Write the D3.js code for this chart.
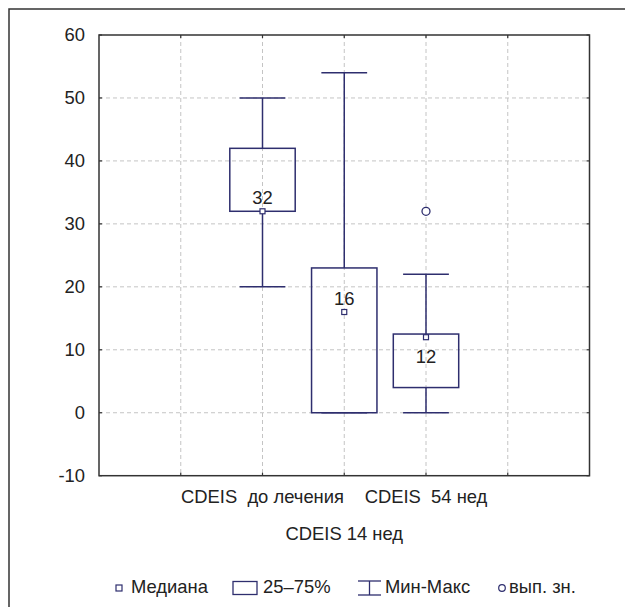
<!DOCTYPE html>
<html><head><meta charset="utf-8">
<script src="https://cdn.jsdelivr.net/npm/d3@7"></script>
<style>
body{margin:0;background:#fff;}
svg text{font-family:"Liberation Sans",Arial,sans-serif;fill:#222;white-space:pre;}
</style></head>
<body><svg id="c" width="625" height="607"></svg>
<script>
const categories = ["CDEIS  до лечения", "CDEIS 14 нед", "CDEIS  54 нед"];
const catPos = [2, 3, 4];
const medians = [32, 16, 12];
const q1 = [32, 0, 4];
const q3 = [42, 23, 12.5];
const mins = [20, 0, 0];
const maxs = [50, 54, 22];
const outliers = [[], [], [32]];
const yTicks = [-10, 0, 10, 20, 30, 40, 50, 60];
const xGrid = [1, 2, 3, 4, 5];
const legendLabels = ["Медиана", "25–75%", "Мин-Макс", "вып. зн."];

const col = "#2e2e6e";
const fs = 18.4;
const svg = d3.select("#c");
const L = 99, R = 589.5, T = 35, B = 475.7;
const x = d3.scaleLinear().domain([0, 6]).range([L, R]);
const y = d3.scaleLinear().domain([-10, 60]).range([B, T]);
const band = x(1) - x(0);

// outer frame
svg.append("path").attr("d", `M9,607 V9 H625`).attr("fill","none").attr("stroke","#333").attr("stroke-width",1.5);

// grid
const g = svg.append("g");
g.selectAll(".gy").data(yTicks.filter(t => t > -10 && t < 60)).join("line")
  .attr("x1", L).attr("x2", R).attr("y1", d => y(d)).attr("y2", d => y(d))
  .attr("stroke", "#c4c4c4").attr("stroke-dasharray", "4,3").attr("stroke-width", 1);
g.selectAll(".gx").data(xGrid).join("line")
  .attr("x1", d => x(d)).attr("x2", d => x(d)).attr("y1", T).attr("y2", B)
  .attr("stroke", "#c4c4c4").attr("stroke-dasharray", "4,3").attr("stroke-width", 1);

// axes
const yAxis = d3.axisLeft(y).tickValues(yTicks).tickSize(0).tickPadding(14).tickFormat(d => String(d));
const ya = svg.append("g").attr("transform", `translate(${L},0)`).call(yAxis);
ya.select(".domain").remove();
ya.selectAll("text").attr("font-size", fs).attr("fill", "#222").attr("font-family", '"Liberation Sans",Arial,sans-serif');

// inner ticks
const tk = svg.append("g").attr("stroke", "#333").attr("stroke-width", 1.2);
yTicks.forEach(t => {
  tk.append("line").attr("x1", L).attr("x2", L + 3).attr("y1", y(t)).attr("y2", y(t));
  tk.append("line").attr("x1", R).attr("x2", R - 3).attr("y1", y(t)).attr("y2", y(t));
});
xGrid.forEach(t => {
  tk.append("line").attr("x1", x(t)).attr("x2", x(t)).attr("y1", T).attr("y2", T + 3);
  tk.append("line").attr("x1", x(t)).attr("x2", x(t)).attr("y1", B).attr("y2", B - 3);
});
svg.append("rect").attr("x", L).attr("y", T).attr("width", R - L).attr("height", B - T)
  .attr("fill", "none").attr("stroke", "#333").attr("stroke-width", 1.5);

// boxes
const bw = band * 0.8, cw = band * 0.56;
categories.forEach((c, i) => {
  const cx = x(catPos[i]);
  const bg = svg.append("g").attr("stroke", col).attr("stroke-width", 1.5).attr("fill", "none");
  if (maxs[i] > q3[i]) bg.append("line").attr("x1", cx).attr("x2", cx).attr("y1", y(q3[i])).attr("y2", y(maxs[i]));
  if (mins[i] < q1[i]) bg.append("line").attr("x1", cx).attr("x2", cx).attr("y1", y(q1[i])).attr("y2", y(mins[i]));
  bg.append("line").attr("x1", cx - cw/2).attr("x2", cx + cw/2).attr("y1", y(maxs[i])).attr("y2", y(maxs[i]));
  bg.append("line").attr("x1", cx - cw/2).attr("x2", cx + cw/2).attr("y1", y(mins[i])).attr("y2", y(mins[i]));
  bg.append("rect").attr("x", cx - bw/2).attr("y", y(q3[i])).attr("width", bw).attr("height", y(q1[i]) - y(q3[i]));
  bg.append("rect").attr("x", cx - 2.5).attr("y", y(medians[i]) - 2.5).attr("width", 5).attr("height", 5)
    .attr("fill", "#fff").attr("stroke-width", 1.2);
  outliers[i].forEach(o => {
    bg.append("circle").attr("cx", cx).attr("cy", y(o)).attr("r", 4).attr("fill", "#fff").attr("stroke-width", 1.3);
  });
  const above = (y(medians[i]) - y(q3[i])) > 20;
  svg.append("text").attr("x", cx).attr("y", above ? y(medians[i]) - 7 : y(medians[i]) + 26)
    .attr("text-anchor", "middle").attr("font-size", fs).text(medians[i]);
});

// category labels
categories.forEach((c, i) => {
  svg.append("text").attr("x", x(catPos[i])).attr("y", i % 2 === 0 ? 503 : 539.5)
    .attr("text-anchor", "middle").attr("font-size", fs).text(c);
});

// legend
const ly = 593, lc = 588;
const lg = svg.append("g").attr("stroke", col).attr("fill", "none");
lg.append("rect").attr("x", 116).attr("y", lc - 3).attr("width", 6).attr("height", 6).attr("stroke-width", 1.2);
lg.append("rect").attr("x", 233).attr("y", lc - 6.5).attr("width", 24).attr("height", 13).attr("stroke-width", 1.3);
lg.append("line").attr("x1", 358).attr("x2", 381).attr("y1", lc - 7).attr("y2", lc - 7).attr("stroke-width", 1.3);
lg.append("line").attr("x1", 358).attr("x2", 381).attr("y1", lc + 7).attr("y2", lc + 7).attr("stroke-width", 1.3);
lg.append("line").attr("x1", 369.5).attr("x2", 369.5).attr("y1", lc - 7).attr("y2", lc + 7).attr("stroke-width", 1.3);
lg.append("circle").attr("cx", 502).attr("cy", lc).attr("r", 3.3).attr("stroke-width", 1.2);
const lx = [131, 263, 385, 509];
legendLabels.forEach((t, i) => {
  svg.append("text").attr("x", lx[i]).attr("y", ly).attr("font-size", fs).text(t);
});
</script></body></html>
